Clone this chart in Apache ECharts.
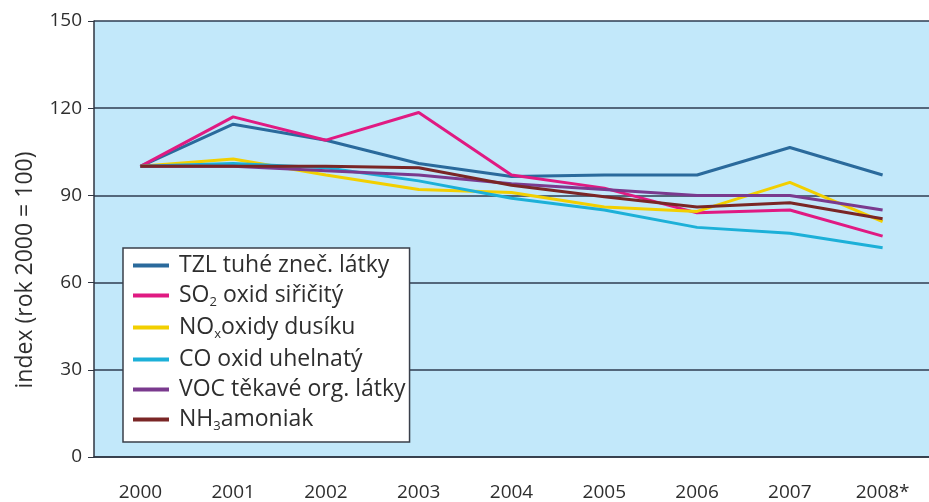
<!DOCTYPE html>
<html>
<head>
<meta charset="utf-8">
<script src="https://cdn.jsdelivr.net/npm/echarts@6/dist/echarts.min.js"></script>
<style>
  html, body { margin: 0; padding: 0; background: #fff; }
  #chart { width: 929px; height: 502px; }
</style>
</head>
<body>
<div id="chart"></div>
<script>
const years = ['2000', '2001', '2002', '2003', '2004', '2005', '2006', '2007', '2008*']
const yTicks = [0, 30, 60, 90, 120, 150]

// index, rok 2000 = 100
const tzl = [100, 114.5, 109, 101, 96.5, 97, 97, 106.5, 97]
const so2 = [100, 117, 109, 118.5, 97, 92.5, 84, 85, 76]
const nox = [100, 102.5, 97, 92, 91, 86, 84.5, 94.5, 81]
const co = [100, 101, 99.5, 95, 89, 85, 79, 77, 72]
const voc = [100, 100, 98.5, 97, 94, 92, 90, 90, 85]
const nh3 = [100, 100, 100, 99.5, 93.5, 89.5, 86, 87.5, 82]

const seriesList = [
  { name: 'TZL', label: 'TZL tuhé zneč. látky', data: tzl, color: '#2a6a9c' },
  { name: 'SO2', label: 'SO{sub|2} oxid siřičitý', data: so2, color: '#e01a82' },
  { name: 'NOx', label: 'NO{sub|x}oxidy dusíku', data: nox, color: '#f2cf00' },
  { name: 'CO', label: 'CO oxid uhelnatý', data: co, color: '#1cb0d8' },
  { name: 'VOC', label: 'VOC těkavé org. látky', data: voc, color: '#7a3a8e' },
  { name: 'NH3', label: 'NH{sub|3}amoniak', data: nh3, color: '#7a2626' }
]

const chart = echarts.init(document.getElementById('chart'))
const font = '"Open Sans", "Noto Sans", sans-serif'

chart.setOption({
  animation: false,
  textStyle: { fontFamily: font },
  grid: {
    left: 94,
    top: 21,
    width: 850,
    height: 436,
    show: true,
    backgroundColor: '#c2e8fa',
    borderWidth: 0
  },
  // popisek osy y (posunutý níž jako v originále)
  graphic: [{
    type: 'text',
    x: 25,
    y: 270,
    rotation: Math.PI / 2,
    style: {
      text: 'index (rok 2000 = 100)',
      fontFamily: font,
      fontSize: 23,
      fill: '#2e2e2e',
      align: 'center',
      verticalAlign: 'middle'
    }
  }],
  legend: {
    orient: 'vertical',
    left: 123,
    top: 248,
    backgroundColor: '#fff',
    borderColor: '#3a3f4a',
    borderWidth: 1.5,
    padding: [6, 4, 9, 10],
    itemGap: 7,
    itemWidth: 36,
    itemHeight: 4,
    icon: 'rect',
    data: seriesList.map(s => s.name),
    formatter: name => seriesList.find(s => s.name === name).label,
    textStyle: {
      fontFamily: font,
      fontSize: 23,
      lineHeight: 22,
      padding: [0, 0, 0, 5],
      color: '#2e2e2e',
      rich: {
        sub: { fontFamily: font, fontSize: 13, padding: [14, 0, 0, 0], color: '#2e2e2e' }
      }
    }
  },
  xAxis: {
    type: 'category',
    data: years,
    boundaryGap: true,
    axisLine: { lineStyle: { color: '#2e3440', width: 1.5 } },
    axisTick: { length: 7, lineStyle: { color: '#2e3440' } },
    axisLabel: { fontSize: 19, color: '#2e2e2e', margin: 26 }
  },
  yAxis: {
    type: 'value',
    min: yTicks[0],
    max: yTicks[yTicks.length - 1],
    interval: 30,
    axisLine: { show: true, lineStyle: { color: '#2e3440', width: 1.5 } },
    axisTick: { show: true, length: 6, lineStyle: { color: '#2e3440' } },
    axisLabel: { fontSize: 19, color: '#2e2e2e', margin: 12 },
    splitLine: { lineStyle: { color: '#2e3d50', width: 1.5 } }
  },
  series: seriesList.map(s => ({
    name: s.name,
    type: 'line',
    data: s.data,
    symbol: 'none',
    color: s.color,
    lineStyle: { width: 3, color: s.color }
  }))
})
</script>
</body>
</html>
